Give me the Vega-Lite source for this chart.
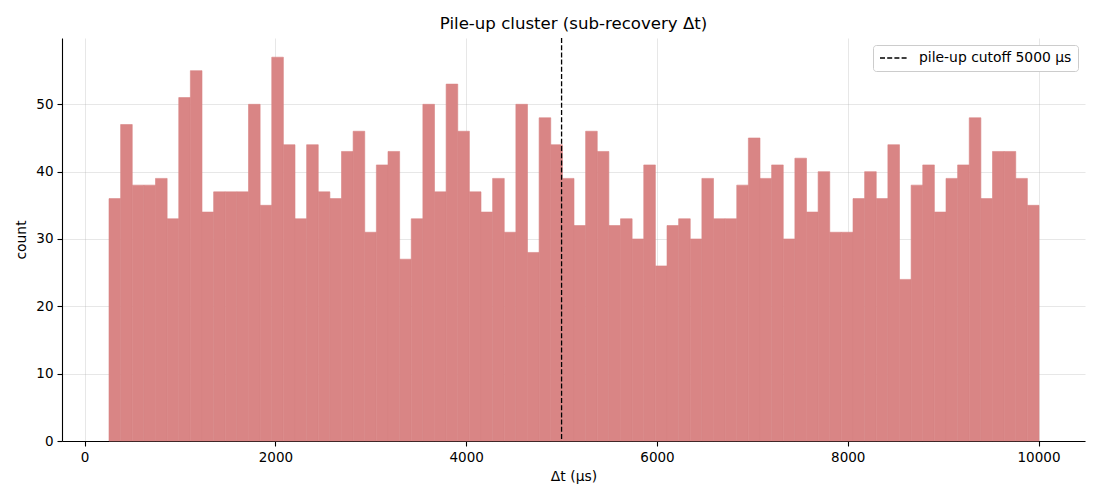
{
  "$schema": "https://vega.github.io/schema/vega-lite/v6.json",
  "title": {
    "text": "Pile-up cluster (sub-recovery Δt)",
    "font": "DejaVu Sans",
    "fontSize": 16.6,
    "fontWeight": "normal",
    "color": "black",
    "anchor": "middle",
    "offset": 5
  },
  "autosize": "none",
  "width": 1023,
  "height": 403,
  "padding": {"left": 62, "top": 38, "right": 15, "bottom": 59},
  "background": "white",
  "layer": [
    {
      "data": {
        "values": [
          {"bin_start": 250, "bin_end": 371.875, "count": 36},
          {"bin_start": 371.875, "bin_end": 493.75, "count": 47},
          {"bin_start": 493.75, "bin_end": 615.625, "count": 38},
          {"bin_start": 615.625, "bin_end": 737.5, "count": 38},
          {"bin_start": 737.5, "bin_end": 859.375, "count": 39},
          {"bin_start": 859.375, "bin_end": 981.25, "count": 33},
          {"bin_start": 981.25, "bin_end": 1103.125, "count": 51},
          {"bin_start": 1103.125, "bin_end": 1225, "count": 55},
          {"bin_start": 1225, "bin_end": 1346.875, "count": 34},
          {"bin_start": 1346.875, "bin_end": 1468.75, "count": 37},
          {"bin_start": 1468.75, "bin_end": 1590.625, "count": 37},
          {"bin_start": 1590.625, "bin_end": 1712.5, "count": 37},
          {"bin_start": 1712.5, "bin_end": 1834.375, "count": 50},
          {"bin_start": 1834.375, "bin_end": 1956.25, "count": 35},
          {"bin_start": 1956.25, "bin_end": 2078.125, "count": 57},
          {"bin_start": 2078.125, "bin_end": 2200, "count": 44},
          {"bin_start": 2200, "bin_end": 2321.875, "count": 33},
          {"bin_start": 2321.875, "bin_end": 2443.75, "count": 44},
          {"bin_start": 2443.75, "bin_end": 2565.625, "count": 37},
          {"bin_start": 2565.625, "bin_end": 2687.5, "count": 36},
          {"bin_start": 2687.5, "bin_end": 2809.375, "count": 43},
          {"bin_start": 2809.375, "bin_end": 2931.25, "count": 46},
          {"bin_start": 2931.25, "bin_end": 3053.125, "count": 31},
          {"bin_start": 3053.125, "bin_end": 3175, "count": 41},
          {"bin_start": 3175, "bin_end": 3296.875, "count": 43},
          {"bin_start": 3296.875, "bin_end": 3418.75, "count": 27},
          {"bin_start": 3418.75, "bin_end": 3540.625, "count": 33},
          {"bin_start": 3540.625, "bin_end": 3662.5, "count": 50},
          {"bin_start": 3662.5, "bin_end": 3784.375, "count": 37},
          {"bin_start": 3784.375, "bin_end": 3906.25, "count": 53},
          {"bin_start": 3906.25, "bin_end": 4028.125, "count": 46},
          {"bin_start": 4028.125, "bin_end": 4150, "count": 37},
          {"bin_start": 4150, "bin_end": 4271.875, "count": 34},
          {"bin_start": 4271.875, "bin_end": 4393.75, "count": 39},
          {"bin_start": 4393.75, "bin_end": 4515.625, "count": 31},
          {"bin_start": 4515.625, "bin_end": 4637.5, "count": 50},
          {"bin_start": 4637.5, "bin_end": 4759.375, "count": 28},
          {"bin_start": 4759.375, "bin_end": 4881.25, "count": 48},
          {"bin_start": 4881.25, "bin_end": 5003.125, "count": 44},
          {"bin_start": 5003.125, "bin_end": 5125, "count": 39},
          {"bin_start": 5125, "bin_end": 5246.875, "count": 32},
          {"bin_start": 5246.875, "bin_end": 5368.75, "count": 46},
          {"bin_start": 5368.75, "bin_end": 5490.625, "count": 43},
          {"bin_start": 5490.625, "bin_end": 5612.5, "count": 32},
          {"bin_start": 5612.5, "bin_end": 5734.375, "count": 33},
          {"bin_start": 5734.375, "bin_end": 5856.25, "count": 30},
          {"bin_start": 5856.25, "bin_end": 5978.125, "count": 41},
          {"bin_start": 5978.125, "bin_end": 6100, "count": 26},
          {"bin_start": 6100, "bin_end": 6221.875, "count": 32},
          {"bin_start": 6221.875, "bin_end": 6343.75, "count": 33},
          {"bin_start": 6343.75, "bin_end": 6465.625, "count": 30},
          {"bin_start": 6465.625, "bin_end": 6587.5, "count": 39},
          {"bin_start": 6587.5, "bin_end": 6709.375, "count": 33},
          {"bin_start": 6709.375, "bin_end": 6831.25, "count": 33},
          {"bin_start": 6831.25, "bin_end": 6953.125, "count": 38},
          {"bin_start": 6953.125, "bin_end": 7075, "count": 45},
          {"bin_start": 7075, "bin_end": 7196.875, "count": 39},
          {"bin_start": 7196.875, "bin_end": 7318.75, "count": 41},
          {"bin_start": 7318.75, "bin_end": 7440.625, "count": 30},
          {"bin_start": 7440.625, "bin_end": 7562.5, "count": 42},
          {"bin_start": 7562.5, "bin_end": 7684.375, "count": 34},
          {"bin_start": 7684.375, "bin_end": 7806.25, "count": 40},
          {"bin_start": 7806.25, "bin_end": 7928.125, "count": 31},
          {"bin_start": 7928.125, "bin_end": 8050, "count": 31},
          {"bin_start": 8050, "bin_end": 8171.875, "count": 36},
          {"bin_start": 8171.875, "bin_end": 8293.75, "count": 40},
          {"bin_start": 8293.75, "bin_end": 8415.625, "count": 36},
          {"bin_start": 8415.625, "bin_end": 8537.5, "count": 44},
          {"bin_start": 8537.5, "bin_end": 8659.375, "count": 24},
          {"bin_start": 8659.375, "bin_end": 8781.25, "count": 38},
          {"bin_start": 8781.25, "bin_end": 8903.125, "count": 41},
          {"bin_start": 8903.125, "bin_end": 9025, "count": 34},
          {"bin_start": 9025, "bin_end": 9146.875, "count": 39},
          {"bin_start": 9146.875, "bin_end": 9268.75, "count": 41},
          {"bin_start": 9268.75, "bin_end": 9390.625, "count": 48},
          {"bin_start": 9390.625, "bin_end": 9512.5, "count": 36},
          {"bin_start": 9512.5, "bin_end": 9634.375, "count": 43},
          {"bin_start": 9634.375, "bin_end": 9756.25, "count": 43},
          {"bin_start": 9756.25, "bin_end": 9878.125, "count": 39},
          {"bin_start": 9878.125, "bin_end": 10000, "count": 35}
        ]
      },
      "mark": {"type": "bar", "color": "#d98585", "stroke": "#d98585", "strokeWidth": 0.6, "binSpacing": 0},
      "encoding": {
        "x": {
          "field": "bin_start",
          "type": "quantitative",
          "bin": {"binned": true, "step": 121.875},
          "title": "Δt (µs)",
          "scale": {"domain": [-237.5, 10487.5], "nice": false, "zero": false},
          "axis": {"values": [0, 2000, 4000, 6000, 8000, 10000], "format": "d", "titlePadding": 6}
        },
        "x2": {"field": "bin_end"},
        "y": {
          "field": "count",
          "type": "quantitative",
          "title": "count",
          "scale": {"domain": [0, 59.85], "nice": false},
          "axis": {"values": [0, 10, 20, 30, 40, 50], "titlePadding": 7}
        }
      }
    },
    {
      "data": {"values": [{"cutoff": 5000, "label": "pile-up cutoff 5000 µs"}]},
      "mark": {"type": "rule", "color": "black", "strokeWidth": 1.3},
      "encoding": {
        "x": {"field": "cutoff", "type": "quantitative"},
        "strokeDash": {
          "field": "label",
          "type": "nominal",
          "scale": {"range": [[5, 2.2]]},
          "legend": {
            "title": null,
            "orient": "top-right",
            "offset": 7,
            "padding": 6,
            "clipHeight": 14,
            "fillColor": "white",
            "strokeColor": "#cccccc",
            "cornerRadius": 3,
            "symbolType": "stroke",
            "symbolSize": 729,
            "symbolStrokeColor": "black",
            "symbolStrokeWidth": 1.3,
            "labelFont": "DejaVu Sans",
            "labelFontSize": 13.9,
            "labelColor": "black",
            "labelOffset": 11
          }
        }
      }
    }
  ],
  "config": {
    "view": {"stroke": null},
    "axis": {
      "zindex": 1,
      "labelFont": "DejaVu Sans",
      "labelFontSize": 13.5,
      "labelColor": "black",
      "labelPadding": 4,
      "titleFont": "DejaVu Sans",
      "titleFontSize": 13.9,
      "titleFontWeight": "normal",
      "titleColor": "black",
      "titlePadding": 5,
      "domainColor": "black",
      "domainWidth": 1.1,
      "tickColor": "black",
      "tickWidth": 1.1,
      "tickSize": 5,
      "grid": true,
      "gridColor": "#b0b0b0",
      "gridOpacity": 0.3,
      "gridWidth": 1
    }
  }
}
